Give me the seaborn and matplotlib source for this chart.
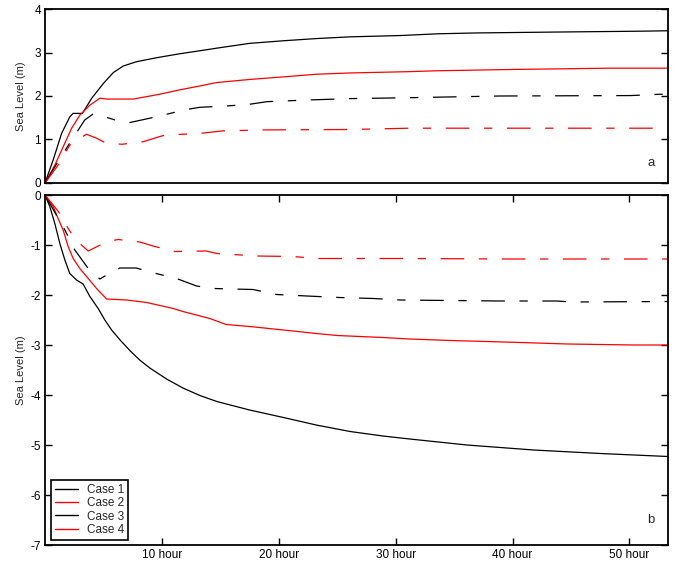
import matplotlib
matplotlib.use("Agg")
import matplotlib.pyplot as plt
from matplotlib.lines import Line2D
import seaborn as sns
import pandas as pd

# ---- panel a: sea level rise (m) versus time (hours) ----
t_a1 = [0, 0.7, 1.42, 2.12, 2.4, 3.2, 4.0, 5.0, 5.85, 6.7, 7.85, 9.55, 11.5, 13.25,
        14.7, 17.5, 20.4, 23.2, 26.1, 30.4, 33.6, 37.0, 43.7, 51.0, 53.3]
a1 = [0, 0.53, 1.14, 1.52, 1.6, 1.6, 1.95, 2.29, 2.54, 2.69, 2.79, 2.88, 2.97, 3.04,
      3.10, 3.21, 3.27, 3.32, 3.36, 3.39, 3.43, 3.45, 3.47, 3.49, 3.5]

t_a2 = [0, 0.84, 1.55, 2.28, 2.98, 3.84, 4.7, 5.3, 7.56, 9.8, 11.5, 13.25, 14.7,
        17.5, 20.4, 23.2, 26.1, 31.2, 33.5, 40.0, 48.4, 53.3]
a2 = [0, 0.41, 0.83, 1.26, 1.56, 1.79, 1.95, 1.93, 1.93, 2.04, 2.14, 2.23, 2.31,
      2.38, 2.44, 2.5, 2.53, 2.56, 2.58, 2.61, 2.64, 2.64]

t_a3 = [0, 0.84, 1.84, 2.85, 3.4, 4.14, 5.26, 5.98, 7.26, 8.97, 10.4, 12.1, 13.25,
        15.5, 17.5, 19.0, 22.7, 26.1, 31.0, 38.9, 50.1, 52.6, 53.3]
a3 = [0, 0.37, 0.8, 1.22, 1.45, 1.59, 1.51, 1.45, 1.39, 1.49, 1.58, 1.69, 1.74,
      1.77, 1.81, 1.87, 1.91, 1.94, 1.96, 2.0, 2.01, 2.04, 2.04]

t_a4 = [0, 1.12, 2.12, 2.98, 3.55, 4.41, 5.12, 6.57, 8.4, 10.1, 11.7, 13.25, 15.25,
        18.7, 26.1, 31.2, 40.0, 53.3]
a4 = [0, 0.41, 0.87, 1.03, 1.12, 1.03, 0.93, 0.89, 0.95, 1.09, 1.12, 1.14, 1.2,
      1.22, 1.23, 1.26, 1.26, 1.26]

# ---- panel b: sea level fall (m) versus time (hours) ----
t_b1 = [0, 0.41, 0.84, 1.27, 1.7, 2.12, 2.7, 3.26, 3.84, 4.55, 5.12, 5.7, 6.5, 7.3,
        8.1, 8.97, 10.4, 11.8, 13.25, 14.7, 17.5, 20.4, 23.2, 26.1, 28.9, 31.2,
        36.1, 41.8, 47.5, 53.3]
b1 = [0, -0.23, -0.57, -0.97, -1.3, -1.57, -1.7, -1.78, -2.03, -2.27, -2.5, -2.7,
      -2.92, -3.12, -3.3, -3.46, -3.68, -3.86, -4.01, -4.13, -4.3, -4.45, -4.6,
      -4.73, -4.82, -4.88, -5.0, -5.1, -5.17, -5.23]

t_b2 = [0, 0.7, 1.12, 1.55, 1.98, 2.41, 2.98, 3.7, 4.41, 5.27, 6.98, 8.7, 10.97,
        11.8, 14.1, 15.5, 17.5, 20.4, 23.2, 25.0, 28.9, 31.2, 34.7, 40.7, 44.7,
        50.4, 53.3]
b2 = [0, -0.23, -0.47, -0.7, -1.03, -1.27, -1.47, -1.67, -1.87, -2.08, -2.1, -2.15,
      -2.27, -2.33, -2.47, -2.59, -2.63, -2.7, -2.77, -2.81, -2.85, -2.88, -2.91,
      -2.95, -2.98, -3.0, -3.0]

t_b3 = [0, 0.41, 1.7, 2.55, 3.7, 4.7, 5.27, 6.4, 7.8, 9.5, 11.25, 12.97, 14.4, 17.8,
        19.8, 22.4, 25.2, 28.1, 30.4, 38.9, 43.8, 45.0, 53.3]
b3 = [0, -0.17, -0.7, -1.1, -1.47, -1.68, -1.6, -1.46, -1.46, -1.57, -1.67, -1.82,
      -1.87, -1.89, -1.99, -2.02, -2.05, -2.07, -2.1, -2.12, -2.12, -2.14, -2.13]

t_b4 = [0, 0.7, 1.27, 1.98, 2.27, 3.12, 3.7, 4.55, 5.55, 6.27, 8.1, 9.4, 11.1, 13.8,
        14.7, 18.1, 21.2, 23.2, 30.4, 40.0, 53.3]
b4 = [0, -0.2, -0.37, -0.67, -0.77, -1.0, -1.12, -1.02, -0.92, -0.89, -0.94, -1.03,
      -1.13, -1.12, -1.17, -1.22, -1.23, -1.27, -1.27, -1.28, -1.28]

case_labels = ["Case 1", "Case 2", "Case 3", "Case 4"]
y_ticks_a = [0, 1, 2, 3, 4]
y_ticks_b = [0, -1, -2, -3, -4, -5, -6, -7]
x_ticks = [10, 20, 30, 40, 50]
x_tick_labels = ["10 hour", "20 hour", "30 hour", "40 hour", "50 hour"]

sns.set_style("white")
plt.rcParams["font.family"] = ["Liberation Sans", "DejaVu Sans"]
plt.rcParams["axes.unicode_minus"] = False
plt.rcParams["lines.scale_dashes"] = False

colors = ["black", "#ff0000", "black", "#ff0000"]
dash_dot = (0, (17, 10.5, 6, 10.5))
styles = ["-", "-", dash_dot, dash_dot]

fig = plt.figure(figsize=(6.73, 5.63), dpi=100)
ax_a = fig.add_axes([45 / 673, 1 - 183 / 563, 623 / 673, 174 / 563])
ax_b = fig.add_axes([45 / 673, 1 - 545 / 563, 623 / 673, 350 / 563])

series_a = [(t_a1, a1), (t_a2, a2), (t_a3, a3), (t_a4, a4)]
series_b = [(t_b1, b1), (t_b2, b2), (t_b3, b3), (t_b4, b4)]

for ax, series in ((ax_a, series_a), (ax_b, series_b)):
    for (tt, vv), c, ls in zip(series, colors, styles):
        df = pd.DataFrame({"hour": tt, "level": vv})
        sns.lineplot(data=df, x="hour", y="level", color=c, linestyle=ls,
                     linewidth=0.9, estimator=None, sort=False, ax=ax)

xmax = 53.3
for ax in (ax_a, ax_b):
    ax.set_xlim(0, xmax)
    ax.set_xlabel("")
    ax.set_ylabel("Sea Level (m)", fontsize=8)
    for s in ax.spines.values():
        s.set_visible(True)
        s.set_linewidth(1.3)
        s.set_color("black")
    ax.tick_params(axis="both", direction="in", length=5, width=1.0,
                   labelsize=8.5, colors="black", pad=3)

ax_a.set_ylim(0, 4)
ax_a.set_yticks(y_ticks_a)
ax_a.set_xticks([])
ax_a.tick_params(axis="y", left=True, right=True)
ax_a.yaxis.set_label_coords(-0.03, 0.5)

ax_b.set_ylim(-7, 0)
ax_b.set_yticks(y_ticks_b)
ax_b.set_xticks(x_ticks)
ax_b.set_xticklabels(x_tick_labels)
ax_b.tick_params(axis="x", top=True, bottom=True)
ax_b.tick_params(axis="y", left=True, right=True)
ax_b.yaxis.set_label_coords(-0.03, 0.5)

ax_a.text(0.973, 0.115, "a", transform=ax_a.transAxes, fontsize=9.5,
          ha="center", va="center")
ax_b.text(0.973, 0.071, "b", transform=ax_b.transAxes, fontsize=9.5,
          ha="center", va="center")

handles = [Line2D([], [], color=c, linewidth=1.0) for c in colors]
leg = ax_b.legend(handles, case_labels, loc="lower left",
                  bbox_to_anchor=(0.0096, 0.014), borderaxespad=0,
                  fontsize=8.5, handlelength=1.9, labelspacing=0.12,
                  handletextpad=0.8, borderpad=0.35, fancybox=False,
                  framealpha=1, edgecolor="black")
leg.get_frame().set_linewidth(1.2)

fig.savefig("out.png", dpi=100)
